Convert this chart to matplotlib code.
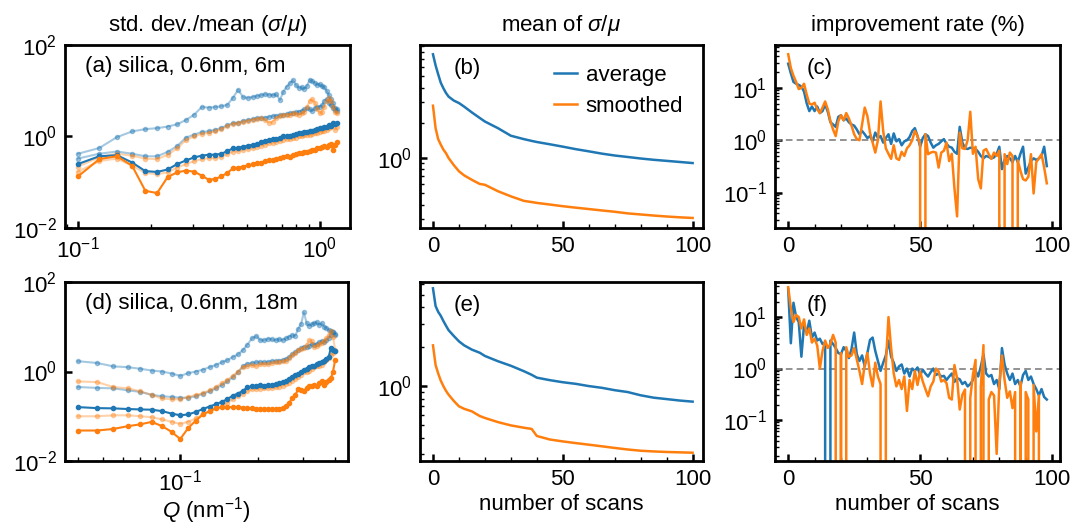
import matplotlib
matplotlib.use('Agg')
import matplotlib.pyplot as plt
import numpy as np
from matplotlib.ticker import LogLocator, NullLocator, NullFormatter, MultipleLocator, FixedLocator

plt.rcParams['font.family'] = ['Liberation Sans', 'DejaVu Sans']
plt.rcParams['mathtext.fontset'] = 'custom'
plt.rcParams['mathtext.rm'] = 'Liberation Sans'
plt.rcParams['mathtext.it'] = 'Liberation Sans:italic'
FS = 16
plt.rcParams['font.size'] = FS

BLUE = '#1f77b4'
ORANGE = '#ff7f0e'

# ---- (a) silica, 0.6nm, 6m : sigma/mu vs Q ----
q_a = [0.1, 0.1225, 0.145, 0.1675, 0.19, 0.2125, 0.235, 0.2575, 0.28, 0.3025,
       0.325, 0.3475, 0.37, 0.3925, 0.415, 0.4375, 0.46, 0.4825, 0.505, 0.5275,
       0.55, 0.5725, 0.595, 0.6175, 0.64, 0.6625, 0.685, 0.7075, 0.73, 0.7525,
       0.775, 0.7975, 0.82, 0.8425, 0.865, 0.8875, 0.91, 0.9325, 0.955, 0.9775,
       1.0, 1.0225, 1.045, 1.0675, 1.09, 1.1125, 1.135, 1.1575, 1.18]
avg1_a = [0.42, 0.56, 0.97, 1.29, 1.45, 1.52, 1.65, 1.85, 2.3, 3.0,
          4.4, 4.3, 4.4, 4.6, 4.9, 7.0, 10.5, 7.2, 7.0, 7.3,
          7.7, 8.0, 8.4, 8.2, 8.0, 8.3, 6.3, 9.5, 12.3, 14.6,
          17.0, 13.5, 11.5, 12.0, 11.0, 13.0, 17.5, 16.0, 15.0, 13.5,
          14.0, 12.5, 12.0, 10.0, 8.0, 6.5, 5.5, 4.2, 4.0]
avg10_a = [0.33, 0.42, 0.47, 0.42, 0.37, 0.37, 0.46, 0.62, 0.95, 1.1,
           1.25, 1.3, 1.4, 1.55, 1.75, 1.95, 2.0, 2.2, 2.3, 2.4,
           2.5, 2.55, 2.6, 2.7, 2.8, 2.85, 2.9, 3.0, 3.1, 3.2,
           3.3, 3.35, 3.5, 3.7, 3.9, 4.1, 4.0, 3.6, 4.2, 4.4,
           4.5, 4.8, 6.0, 6.5, 5.5, 4.8, 4.2, 3.8, 3.6]
avg100_a = [0.25, 0.37, 0.39, 0.27, 0.175, 0.168, 0.19, 0.25, 0.3, 0.35,
            0.38, 0.40, 0.40, 0.42, 0.48, 0.55, 0.57, 0.6, 0.63, 0.66,
            0.7, 0.74, 0.78, 0.84, 0.86, 0.9, 0.95, 1.0, 1.02, 1.05,
            1.08, 1.12, 1.18, 1.2, 1.25, 1.27, 1.3, 1.35, 1.4, 1.45,
            1.5, 1.55, 1.6, 1.65, 1.8, 1.7, 1.95, 1.85, 2.0]
sm1_a = [0.22, 0.35, 0.42, 0.38, 0.33, 0.32, 0.4, 0.55, 0.85, 1.0,
         1.15, 1.2, 1.3, 1.45, 1.7, 1.9, 1.95, 2.1, 2.2, 2.35,
         2.4, 2.5, 2.3, 2.0, 2.1, 2.6, 2.8, 2.9, 3.0, 3.0,
         3.2, 3.1, 3.0, 3.2, 3.5, 4.5, 6.0, 6.5, 5.5, 4.0,
         3.2, 3.5, 4.5, 6.0, 6.8, 6.0, 4.5, 3.5, 3.2]
sm10_a = [0.17, 0.29, 0.33, 0.23, 0.16, 0.15, 0.165, 0.21, 0.25, 0.29,
          0.32, 0.34, 0.34, 0.36, 0.41, 0.47, 0.48, 0.51, 0.54, 0.56,
          0.6, 0.63, 0.66, 0.71, 0.73, 0.77, 0.8, 0.85, 0.87, 0.89,
          0.92, 0.95, 1.0, 1.02, 1.06, 1.08, 1.1, 1.15, 1.2, 1.22,
          1.28, 1.3, 1.35, 1.4, 1.55, 1.6, 2.0, 1.4, 1.6]
sm100_a = [0.134, 0.32, 0.37, 0.23, 0.065, 0.058, 0.13, 0.165, 0.18, 0.17,
           0.14, 0.113, 0.118, 0.135, 0.16, 0.2, 0.21, 0.22, 0.235, 0.245,
           0.26, 0.27, 0.29, 0.3, 0.31, 0.33, 0.34, 0.35, 0.37, 0.36,
           0.4, 0.41, 0.43, 0.44, 0.45, 0.47, 0.48, 0.5, 0.51, 0.55,
           0.57, 0.6, 0.62, 0.6, 0.65, 0.7, 0.5, 0.65, 0.75]

# ---- (d) silica, 0.6nm, 18m ----
q_d = [0.04, 0.0475, 0.055, 0.0625, 0.07, 0.0775, 0.085, 0.0925, 0.1, 0.1075,
       0.115, 0.1225, 0.13, 0.1375, 0.145, 0.1525, 0.16, 0.1675, 0.175, 0.1825,
       0.19, 0.1975, 0.205, 0.2125, 0.22, 0.2275, 0.235, 0.2425, 0.25, 0.2575,
       0.265, 0.2725, 0.28, 0.2875, 0.295, 0.3025, 0.31, 0.3175, 0.325, 0.3325,
       0.34, 0.3475, 0.355, 0.3625, 0.37, 0.3775, 0.385, 0.3925, 0.4]
avg1_d = [1.7, 1.55, 1.3, 1.25, 1.15, 1.05, 1.0, 0.9, 0.8, 0.92,
          1.0, 1.1, 1.25, 1.4, 1.6, 1.8, 2.1, 2.4, 3.0, 4.0,
          5.5, 6.2, 5.0, 5.0, 5.4, 5.2, 5.0, 5.3, 5.0, 5.5,
          6.0, 6.5, 6.3, 9.0, 11.5, 21.0, 12.0, 10.5, 11.5, 12.0,
          12.5, 11.0, 12.0, 10.0, 9.5, 8.5, 8.0, 7.5, 7.0]
avg10_d = [0.45, 0.43, 0.42, 0.38, 0.35, 0.3, 0.28, 0.27, 0.26, 0.26,
           0.28, 0.32, 0.36, 0.42, 0.5, 0.6, 0.75, 0.95, 1.3, 1.5,
           1.55, 1.6, 1.6, 1.6, 1.65, 1.7, 1.7, 1.75, 1.8, 1.9,
           2.1, 2.4, 2.7, 3.0, 3.3, 3.6, 3.5, 3.8, 4.2, 4.0,
           4.2, 4.5, 4.8, 4.6, 5.0, 5.5, 6.5, 7.5, 6.5]
avg100_d = [0.16, 0.152, 0.15, 0.145, 0.142, 0.14, 0.13, 0.115, 0.105, 0.11,
            0.125, 0.145, 0.165, 0.185, 0.21, 0.24, 0.29, 0.32, 0.37, 0.44,
            0.47, 0.48, 0.49, 0.48, 0.49, 0.5, 0.52, 0.55, 0.58, 0.62,
            0.67, 0.75, 0.82, 0.9, 1.0, 1.1, 1.15, 1.25, 1.3, 1.35,
            1.45, 1.55, 1.6, 1.7, 1.9, 2.1, 3.4, 3.1, 2.9]
sm1_d = [0.6, 0.58, 0.45, 0.42, 0.36, 0.3, 0.25, 0.24, 0.24, 0.27,
         0.3, 0.33, 0.38, 0.45, 0.55, 0.65, 0.8, 1.0, 1.25, 1.35,
         1.4, 1.3, 1.45, 1.5, 1.45, 1.55, 1.6, 1.65, 1.7, 1.75,
         2.0, 2.3, 2.6, 3.0, 3.2, 3.4, 4.0, 5.0, 4.8, 3.5,
         3.8, 4.2, 4.4, 4.8, 5.5, 6.5, 8.0, 6.0, 3.0]
sm10_d = [0.1, 0.1, 0.105, 0.105, 0.1, 0.095, 0.085, 0.075, 0.068, 0.075,
          0.09, 0.11, 0.13, 0.15, 0.17, 0.2, 0.24, 0.28, 0.32, 0.36,
          0.4, 0.41, 0.41, 0.42, 0.42, 0.43, 0.44, 0.46, 0.48, 0.52,
          0.56, 0.62, 0.68, 0.75, 0.85, 0.95, 1.0, 1.05, 1.15, 1.25,
          1.3, 1.35, 1.4, 1.6, 1.8, 2.0, 2.3, 2.6, 2.85]
sm100_d = [0.048, 0.048, 0.052, 0.06, 0.066, 0.075, 0.06, 0.045, 0.031, 0.055,
           0.08, 0.11, 0.13, 0.15, 0.16, 0.16, 0.16, 0.16, 0.155, 0.15,
           0.15, 0.148, 0.145, 0.145, 0.142, 0.142, 0.145, 0.145, 0.15, 0.17,
           0.2, 0.25, 0.3, 0.4, 0.38, 0.37, 0.42, 0.48, 0.47, 0.5,
           0.48, 0.55, 0.62, 0.5, 0.58, 0.65, 0.7, 1.0, 1.8]

# ---- (b), (e) mean of sigma/mu vs number of scans ----
scans = [0, 1, 2, 3, 4, 5, 6, 8, 10, 12, 15, 18, 20, 25, 30, 35, 38, 40, 45, 50,
         55, 60, 65, 70, 75, 80, 85, 90, 95, 100]
avg_b = [7.7, 6.2, 5.2, 4.4, 3.95, 3.6, 3.35, 3.1, 2.95, 2.75, 2.45, 2.2, 2.05, 1.8,
         1.55, 1.45, 1.40, 1.37, 1.31, 1.25, 1.19, 1.14, 1.09, 1.05, 1.02, 0.99,
         0.965, 0.945, 0.925, 0.905]
smooth_b = [2.8, 1.8, 1.45, 1.3, 1.18, 1.1, 1.0, 0.87, 0.77, 0.71, 0.65, 0.6, 0.59,
            0.52, 0.47, 0.43, 0.42, 0.413, 0.40, 0.387, 0.376, 0.366, 0.356, 0.347,
            0.336, 0.329, 0.322, 0.316, 0.311, 0.307]
avg_e = [5.6, 4.1, 3.7, 3.45, 3.15, 2.9, 2.68, 2.42, 2.2, 2.05, 1.9, 1.8, 1.7, 1.55,
         1.43, 1.3, 1.22, 1.16, 1.11, 1.07, 1.04, 1.0, 0.97, 0.93, 0.9, 0.85,
         0.815, 0.795, 0.775, 0.76]
smooth_e = [2.05, 1.45, 1.25, 1.1, 1.0, 0.92, 0.86, 0.77, 0.7, 0.67, 0.64, 0.59,
            0.57, 0.53, 0.50, 0.48, 0.47, 0.415, 0.39, 0.377, 0.366, 0.356, 0.346,
            0.336, 0.327, 0.32, 0.316, 0.313, 0.311, 0.309]

# ---- (c), (f) improvement rate (%) per added scan; -1 = no improvement ----
steps = list(range(99))
imp_avg_c = [29, 19, 13, 12, 11.4, 10.6, 8.5, 5.1, 3.6, 4.4,
             3.6, 4.4, 3.3, 3.6, 4.8, 3.5, 2.2, 2.0, 1.8, 2.8,
             3.0, 2.4, 2.6, 2.2, 2.0, 1.9, 1.6, 1.3, 1.5, 1.3,
             1.1, 1.2, 0.95, 1.4, 1.1, 1.2, 0.9, 1.1, 1.3, 0.85,
             1.35, 0.95, 1.05, 0.8, 0.95, 1.0, 1.15, 1.5, 1.7, 1.2,
             0.75, 1.1, 1.3, 1.2, 0.9, 0.72, 0.8, 0.85, 0.95, 1.05,
             0.85, 0.75, 0.72, 0.6, 0.55, 1.8, 0.9, 0.7, 0.68, 0.72,
             0.7, 0.68, 0.6, 0.5, 0.45, 0.5, 0.48, 0.45, 0.47, 0.55,
             0.75, 0.28, 0.42, 0.5, 0.45, 0.38, 0.5, 0.38, 0.55, 0.75,
             0.23, 0.3, 0.4, 0.45, 0.42, 0.45, 0.5, 0.75, 0.32]
imp_sm_c = [44, 24, 17, 13, 9.5, 10, 12, 7.5, 5.0, 4.8,
            5.2, 3.9, 3.3, 4.2, 5.5, 3.9, 2.3, 1.6, 1.2, 2.3,
            3.0, 2.4, 3.3, 2.6, 1.9, 1.3, 1.05, 1.0, 2.0, 4.2,
            2.9, 1.4, 0.9, 0.58, 1.0, 5.5, 1.5, 0.7, 0.55, 0.44,
            0.8, 0.45, 0.42, 0.6, 0.5, 0.7, 0.8, 1.0, 1.5, 1.2,
            0.84, -1, 1.3, 0.54, 0.58, 0.6, 0.58, 0.3, 0.58, 0.63,
            0.9, 0.4, 0.55, 0.12, 0.035, 1.4, 0.7, 0.68, 1.0, 3.5,
            0.55, 0.75, 0.18, 0.12, 0.63, 0.68, 0.54, 0.44, 0.58, 0.5,
            0.63, -1, 0.54, 0.35, 0.58, 0.5, -1, 0.41, 0.26, 0.18,
            0.17, 0.2, 0.54, 0.096, 0.38, 0.45, 0.54, 0.3, 0.15]
imp_avg_f = [35, 3.1, 19, 10, 8, 1.7, 7, 5, 8.5, 4,
             5, 3.5, 3.8, 3.0, 3.2, -1, 3.5, 3.0, 2.5, 2.0,
             1.9, 2.6, 2.2, 1.6, 2.4, 5.0, 1.9, 1.4, 1.8, 1.1,
             2.0, 3.6, 4.0, 2.2, 1.4, 0.9, 1.3, 1.8, 3.5, 1.7,
             1.3, 0.9, 1.1, 1.2, 0.8, 1.0, 0.7, 1.0, 0.9, 1.05,
             0.75, 0.95, 0.8, 0.7, 0.85, 1.0, 0.75, 0.8, 0.7, 0.72,
             0.6, 0.7, 0.8, 0.55, 0.65, 0.62, 0.5, 0.55, 0.45, 0.5,
             0.6, 0.9, 0.7, 1.1, 1.9, 0.8, 0.7, 0.75, 0.5, 0.6,
             0.4, 2.5, 1.2, 0.8, 0.6, 0.8, 0.5, 0.6, 0.45, 0.75,
             0.9, 0.6, 0.7, 0.5, 0.4, 0.3, 0.4, 0.28, 0.25]
imp_sm_f = [38, 15, 8, 11, 10, 6, 9, 4.5, 6, 3.2,
            3.8, 2.8, 1.0, 2.2, 3.5, 2.5, 3.0, 4.5, 3.2, -1,
            2.0, -1, 2.6, 1.7, 1.8, 2.5, 1.5, 0.9, 0.5, 1.2,
            2.0, 0.8, 0.45, 1.3, 0.7, 0.5, -1, 1.2, 10, 2.5,
            0.8, 0.45, 0.6, 0.4, 0.7, 0.15, 0.6, 0.4, 0.9, 0.48,
            0.88, 0.56, 0.4, 0.29, 0.45, 0.56, 1.0, 0.88, 0.56, 0.6,
            0.52, 0.27, 0.25, 1.17, 0.65, 0.16, 0.31, 0.39, -1, 0.27,
            0.76, 1.47, -1, 0.45, 2.85, -1, 0.25, 0.35, 0.3, 0.022,
            0.5, 1.8, 0.6, 0.27, 0.36, 0.17, 0.35, -1, 0.55, -1,
            0.35, 0.25, -1, 0.48, 0.06, 0.3, -1, -1, -1]

fig = plt.figure(figsize=(10.72, 5.26), dpi=100)
W, H = 1072, 526


def add_ax(x0, x1, y0, y1):
    return fig.add_axes([x0 / W, 1 - y1 / H, (x1 - x0) / W, (y1 - y0) / H])


axA = add_ax(65, 350, 45, 228)
axB = add_ax(420, 703, 45, 228)
axC = add_ax(775, 1060, 45, 228)
axD = add_ax(65, 348, 282, 461)
axE = add_ax(420, 703, 282, 461)
axF = add_ax(775, 1060, 282, 461)

for ax in (axA, axB, axC, axD, axE, axF):
    for sp in ax.spines.values():
        sp.set_linewidth(2.0)
    ax.tick_params(which='both', direction='in', top=False, right=False)
    ax.tick_params(which='major', length=5, width=1.8, labelsize=FS, pad=6)
    ax.tick_params(which='minor', length=3, width=1.0)


def q_panel(ax, q, a1, a10, a100, s1, s10, s100, label):
    kw = dict(marker='o', ms=3, lw=1.5)
    ax.plot(q, a1, color=BLUE, alpha=0.4, **kw)
    ax.plot(q, a10, color=BLUE, alpha=0.4, **kw)
    ax.plot(q, s1, color=ORANGE, alpha=0.35, **kw)
    ax.plot(q, s10, color=ORANGE, alpha=0.35, **kw)
    ax.plot(q, a100, color=BLUE, **kw)
    ax.plot(q, s100, color=ORANGE, **kw)
    ax.set_xscale('log')
    ax.set_yscale('log')
    ax.set_ylim(1e-2, 1e2)
    ax.yaxis.set_major_locator(FixedLocator([1e-2, 1e0, 1e2]))
    ax.yaxis.set_minor_locator(NullLocator())
    ax.xaxis.set_minor_formatter(NullFormatter())
    ax.text(0.07, 0.85, label, transform=ax.transAxes, fontsize=FS)


q_panel(axA, q_a, avg1_a, avg10_a, avg100_a, sm1_a, sm10_a, sm100_a,
        '(a) silica, 0.6nm, 6m')
q_panel(axD, q_d, avg1_d, avg10_d, avg100_d, sm1_d, sm10_d, sm100_d,
        '(d) silica, 0.6nm, 18m')
axA.set_title(r'std. dev./mean ($\sigma/\mu$)', fontsize=FS, pad=10)
axD.set_xlabel(r'$Q$ (nm$^{-1}$)', fontsize=FS, labelpad=0)


def mean_panel(ax, avg, sm, label, legend=False):
    ax.plot(scans, avg, color=BLUE, lw=1.8, label='average')
    ax.plot(scans, sm, color=ORANGE, lw=1.8, label='smoothed')
    ax.set_yscale('log')
    ax.yaxis.set_minor_formatter(NullFormatter())
    ax.set_xlim(-5, 104)
    ax.xaxis.set_major_locator(MultipleLocator(50))
    ax.xaxis.set_minor_locator(MultipleLocator(10))
    ax.text(0.12, 0.84, label, transform=ax.transAxes, fontsize=FS)
    if legend:
        ax.legend(loc='upper right', frameon=False, fontsize=FS, handlelength=1.0,
                  handletextpad=0.4, labelspacing=0.45, borderaxespad=0.5)


mean_panel(axB, avg_b, smooth_b, '(b)', legend=True)
mean_panel(axE, avg_e, smooth_e, '(e)')
axB.set_ylim(0.252, 9.25)
axE.set_ylim(0.267, 6.26)
axB.set_title(r'mean of $\sigma/\mu$', fontsize=FS, pad=10)
axE.set_xlabel('number of scans', fontsize=FS, labelpad=3)


def rate_panel(ax, avg, sm, label):
    ax.axhline(1.0, color='gray', lw=1.2, ls=(0, (4, 2.5)))
    ax.plot(steps, avg, color=BLUE, lw=1.8)
    ax.plot(steps, sm, color=ORANGE, lw=1.8)
    ax.set_yscale('log', nonpositive='clip')
    ax.yaxis.set_major_locator(LogLocator(base=10))
    ax.yaxis.set_minor_locator(LogLocator(base=10, subs=np.arange(2, 10)))
    ax.yaxis.set_minor_formatter(NullFormatter())
    ax.set_xlim(-5, 103)
    ax.xaxis.set_major_locator(MultipleLocator(50))
    ax.xaxis.set_minor_locator(MultipleLocator(10))
    ax.text(0.11, 0.84, label, transform=ax.transAxes, fontsize=FS)


rate_panel(axC, imp_avg_c, imp_sm_c, '(c)')
rate_panel(axF, imp_avg_f, imp_sm_f, '(f)')
axC.set_ylim(0.021, 66)
axF.set_ylim(0.016, 48)
axC.set_title('improvement rate (%)', fontsize=FS, pad=10)
axF.set_xlabel('number of scans', fontsize=FS, labelpad=3)

fig.savefig('out.png', dpi=100)
